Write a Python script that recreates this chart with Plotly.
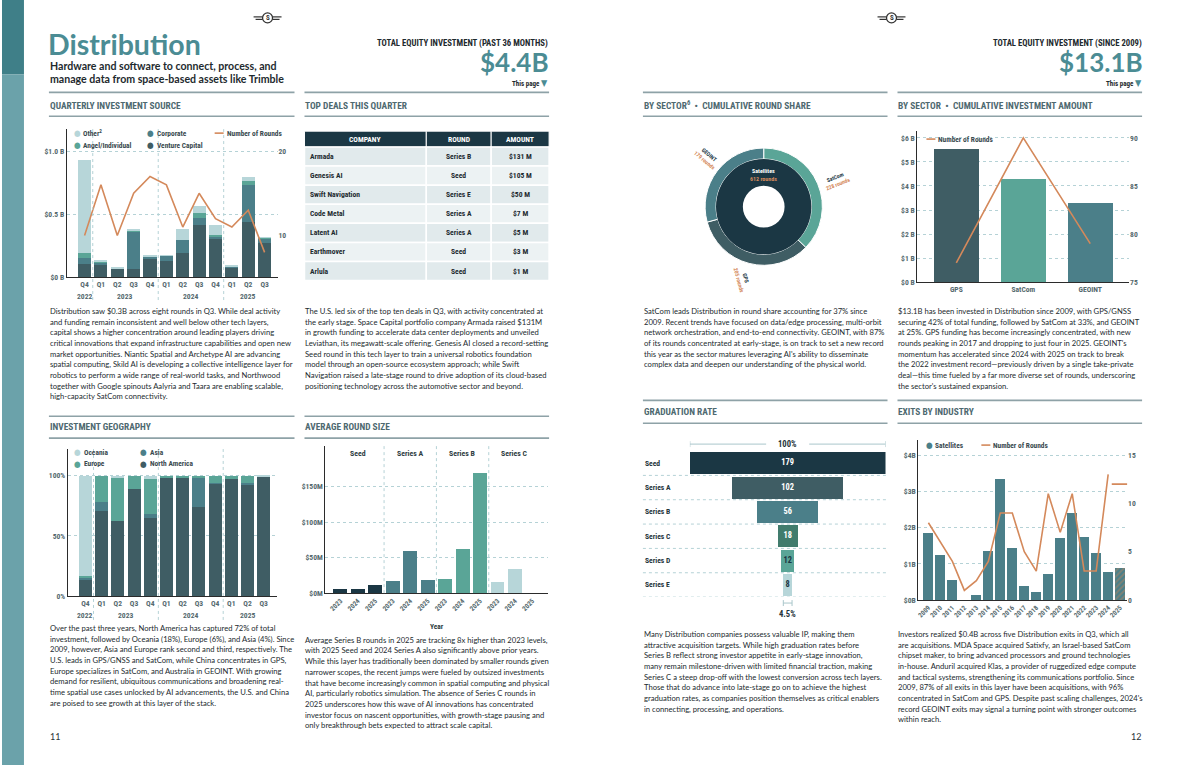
import plotly.graph_objects as go

W, H = 1190, 770

# ---------------- data ----------------
quarters = ["Q4", "Q1", "Q2", "Q3", "Q4", "Q1", "Q2", "Q3", "Q4", "Q1", "Q2", "Q3"]
quarter_years = ["2022", "2023", "2023", "2023", "2023", "2024", "2024", "2024", "2024", "2025", "2025", "2025"]
vc = [0.105, 0.097, 0.068, 0.066, 0.147, 0.129, 0.192, 0.413, 0.302, 0.079, 0.439, 0.274]
corporate = [0.048, 0.021, 0.003, 0.297, 0.011, 0.039, 0.103, 0.055, 0.016, 0.005, 0.292, 0.034]
angel = [0.039, 0.006, 0.0, 0.008, 0.0, 0.002, 0.0, 0.040, 0.016, 0.0, 0.037, 0.005]
other = [0.742, 0.013, 0.003, 0.005, 0.018, 0.001, 0.086, 0.063, 0.079, 0.005, 0.034, 0.005]
rounds_q = [10, 16, 10, 15, 17, 16, 11, 15, 12, 11, 13, 8]

geo_na = [13.5, 70.4, 62.2, 89.0, 64.6, 98.6, 97.8, 73.8, 93.1, 97.0, 92.8, 99.4]
geo_asia = [1.7, 7.5, 0.0, 0.0, 3.3, 0.0, 0.0, 24.5, 0.5, 0.0, 0.8, 0.0]
geo_europe = [1.4, 22.1, 35.6, 11.0, 29.1, 1.4, 2.2, 1.7, 6.4, 3.0, 6.4, 0.0]
geo_oceania = [83.4, 0.0, 2.2, 0.0, 3.0, 0.0, 0.0, 0.0, 0.0, 0.0, 0.0, 0.6]

deal_columns = ["COMPANY", "ROUND", "AMOUNT"]
deal_company = ["Armada", "Genesis AI", "Swift Navigation", "Code Metal", "Latent AI", "Earthmover", "Arlula"]
deal_round = ["Series B", "Seed", "Series E", "Series A", "Series A", "Seed", "Seed"]
deal_amount = ["$131 M", "$105 M", "$50 M", "$7 M", "$5 M", "$3 M", "$1 M"]

round_stages = ["Seed", "Series A", "Series B", "Series C"]
round_years = ["2023", "2024", "2025"]
avg_round = {
    "Seed": [6.0, 6.0, 11.6],
    "Series A": [17.2, 59.0, 18.6],
    "Series B": [20.0, 61.9, 169.0],
    "Series C": [15.8, 34.0, 0.0],
}

ring_sectors = ["SatCom", "GPS", "GEOINT"]
ring_rounds = [228, 205, 179]

sectors = ["GPS", "SatCom", "GEOINT"]
sector_amount = [5.52, 4.28, 3.28]
sector_rounds = [77, 90, 79]

grad_stages = ["Seed", "Series A", "Series B", "Series C", "Series D", "Series E"]
grad_counts = [179, 102, 56, 18, 12, 8]

exit_years = [str(y) for y in range(2009, 2026)]
exit_value = [1.85, 1.24, 0.55, 0.0, 0.14, 1.35, 3.34, 1.43, 0.39, 0.22, 0.72, 1.71, 2.42, 1.73, 1.29, 0.77, 0.90]
exit_rounds = [8, 6, 4, 1, 2, 4, 9, 9, 5, 3, 11, 7, 11, 3, 3, 13, 12]

# ---------------- style ----------------
DARK = "#1b3744"
SLATE = "#3f5d64"
TEAL = "#4b7f89"
GREEN = "#5aa597"
DGREEN = "#417c6d"
LIGHT = "#b7d6d9"
ORANGE = "#d4895b"
GRID = "#b5d2d6"
AXIS = "#2b2b2b"
TICK = "#55696e"
HEADC = "#4e6970"
TITLE = "#4b8c94"
BODYC = "#222a2e"
RULE = "#8ea2a7"

BODY = "Lato, 'Open Sans', 'Liberation Sans', sans-serif"
COND = "'Liberation Sans Narrow', 'Roboto Condensed', 'DejaVu Sans Condensed', Roboto, sans-serif"


def X(p):
    return p / W


def Y(p):
    return 1 - p / H


def xd(a, b):
    return [a / W, b / W]


def yd(top, bottom):
    return [1 - bottom / H, 1 - top / H]


ann = []
shapes = []


def text(x, y, s, size=7.65, color=BODYC, family=BODY, anchor="left", angle=0, yanchor="middle"):
    ann.append(dict(x=X(x), y=Y(y), xref="paper", yref="paper", text=s, showarrow=False,
                    xanchor=anchor, yanchor=yanchor, textangle=angle, borderpad=0,
                    font=dict(family=family, size=size, color=color)))


def line(x0, y0, x1, y1, color, width=1, dash="solid"):
    shapes.append(dict(type="line", xref="paper", yref="paper", x0=X(x0), x1=X(x1), y0=Y(y0), y1=Y(y1),
                       line=dict(color=color, width=width, dash=dash)))


def rect(x0, y0, x1, y1, fill, lc="white", lw=0):
    shapes.append(dict(type="rect", xref="paper", yref="paper", x0=X(x0), x1=X(x1), y0=Y(y1), y1=Y(y0),
                       fillcolor=fill, line=dict(color=lc, width=lw), layer="below"))


def para(x, y0, lines, dy=10.75):
    for i, s in enumerate(lines):
        text(x, y0 + i * dy, s)


def heading(x, y, s):
    text(x, y, "<b>" + s + "</b>", size=9.4, color=HEADC, family=COND)


def dot_leg(x, y, color, label):
    text(x, y, f"<span style='color:{color}'>●</span>", size=8.5, family=COND, anchor="center")
    text(x + 5, y, "<b>" + label + "</b>", size=7.4, color="#3a4a4f", family=COND)


def line_leg(x, y, label):
    line(x, y, x + 9, y, ORANGE, 1.6)
    text(x + 11, y, "<b>" + label + "</b>", size=7.4, color="#3a4a4f", family=COND)


def axis_ann(x, xref, y, s, size=7.6, color=TICK):
    ann.append(dict(x=x, y=Y(y), xref=xref, yref="paper", text=s, showarrow=False,
                    xanchor="center", yanchor="middle", font=dict(family=COND, size=size, color=color)))


fig = go.Figure()

# ---------------- page decoration ----------------
rect(0, 0, 22, 75, "#3f7f88")
rect(0, 75, 22, 770, "#6ba2aa")
for cx in (266, 891):
    shapes.append(dict(type="circle", xref="paper", yref="paper", x0=X(cx - 5), x1=X(cx + 5),
                       y0=Y(23), y1=Y(13), line=dict(color="#333", width=1.3)))
    line(cx - 14, 17, cx - 5, 17, "#333", 1.2)
    line(cx - 12, 19.5, cx - 5, 19.5, "#333", 1.2)
    line(cx + 5, 17, cx + 14, 17, "#333", 1.2)
    line(cx + 5, 19.5, cx + 12, 19.5, "#333", 1.2)
    text(cx, 18, "<b>S</b>", size=7, color="#333", family=COND, anchor="center")

text(45, 44, "<b>Distribution</b>", size=28.5, color=TITLE, family="Lato, 'Open Sans', sans-serif")
text(47, 66.5, "<b>Hardware and software to connect, process, and</b>", size=10.6, color="#1e2a2e", family=BODY)
text(47, 79.5, "<b>manage data from space-based assets like Trimble</b>", size=10.6, color="#1e2a2e", family=BODY)

text(548, 44, "<b>TOTAL EQUITY INVESTMENT (PAST 36 MONTHS)</b>", size=8.7, color="#1e2a2e", family=COND, anchor="right")
text(549, 62, "<b>$4.4B</b>", size=26, color=TITLE, family="Lato, 'Open Sans', sans-serif", anchor="right")
text(548, 84, f"<b>This page</b> <span style='color:{TITLE};font-size:9px'>▼</span>", size=7, color="#1e2a2e", family=COND, anchor="right")

text(1143, 44, "<b>TOTAL EQUITY INVESTMENT (SINCE 2009)</b>", size=8.7, color="#1e2a2e", family=COND, anchor="right")
text(1144, 62, "<b>$13.1B</b>", size=26, color=TITLE, family="Lato, 'Open Sans', sans-serif", anchor="right")
text(1143, 84, f"<b>This page</b> <span style='color:{TITLE};font-size:9px'>▼</span>", size=7, color="#1e2a2e", family=COND, anchor="right")

# rules and headings
for (x0, x1) in [(47, 293), (303, 548)]:
    line(x0, 93, x1, 93, RULE, 1.6)
    line(x0, 117, x1, 117, RULE, 1.6)
    line(x0, 419, x1, 419, RULE, 1.6)
    line(x0, 441, x1, 441, RULE, 1.6)
for (x0, x1) in [(642, 887), (897, 1142)]:
    line(x0, 93, x1, 93, RULE, 1.6)
    line(x0, 117, x1, 117, RULE, 1.6)
    line(x0, 403, x1, 403, RULE, 1.6)
    line(x0, 426, x1, 426, RULE, 1.6)

heading(47, 106, "QUARTERLY INVESTMENT SOURCE")
heading(303, 106, "TOP DEALS THIS QUARTER")
heading(642, 106, "BY SECTOR<sup>6</sup>  •  CUMULATIVE ROUND SHARE")
heading(897, 106, "BY SECTOR  •  CUMULATIVE INVESTMENT AMOUNT")
heading(47, 429, "INVESTMENT GEOGRAPHY")
heading(303, 429, "AVERAGE ROUND SIZE")
heading(642, 414, "GRADUATION RATE")
heading(897, 414, "EXITS BY INDUSTRY")

# ---------------- paragraphs ----------------
para(47, 313, [
    "Distribution saw $0.3B across eight rounds in Q3. While deal activity",
    "and funding remain inconsistent and well below other tech layers,",
    "capital shows a higher concentration around leading players driving",
    "critical innovations that expand infrastructure capabilities and open new",
    "market opportunities. Niantic Spatial and Archetype AI are advancing",
    "spatial computing, Skild AI is developing a collective intelligence layer for",
    "robotics to perform a wide range of real-world tasks, and Northwood",
    "together with Google spinouts Aalyria and Taara are enabling scalable,",
    "high-capacity SatCom connectivity.",
])
para(303, 313, [
    "The U.S. led six of the top ten deals in Q3, with activity concentrated at",
    "the early stage. Space Capital portfolio company Armada raised $131M",
    "in growth funding to accelerate data center deployments and unveiled",
    "Leviathan, its megawatt-scale offering. Genesis AI closed a record-setting",
    "Seed round in this tech layer to train a universal robotics foundation",
    "model through an open-source ecosystem approach; while Swift",
    "Navigation raised a late-stage round to drive adoption of its cloud-based",
    "positioning technology across the automotive sector and beyond.",
])
para(642, 313, [
    "SatCom leads Distribution in round share accounting for 37% since",
    "2009. Recent trends have focused on data/edge processing, multi-orbit",
    "network orchestration, and end-to-end connectivity. GEOINT, with 87%",
    "of its rounds concentrated at early-stage, is on track to set a new record",
    "this year as the sector matures leveraging AI's ability to disseminate",
    "complex data and deepen our understanding of the physical world.",
])
para(897, 313, [
    "$13.1B has been invested in Distribution since 2009, with GPS/GNSS",
    "securing 42% of total funding, followed by SatCom at 33%, and GEOINT",
    "at 25%. GPS funding has become increasingly concentrated, with new",
    "rounds peaking in 2017 and dropping to just four in 2025. GEOINT's",
    "momentum has accelerated since 2024 with 2025 on track to break",
    "the 2022 investment record\u2014previously driven by a single take-private",
    "deal\u2014this time fueled by a far more diverse set of rounds, underscoring",
    "the sector's sustained expansion.",
])
para(47, 632, [
    "Over the past three years, North America has captured 72% of total",
    "investment, followed by Oceania (18%), Europe (6%), and Asia (4%). Since",
    "2009, however, Asia and Europe rank second and third, respectively. The",
    "U.S. leads in GPS/GNSS and SatCom, while China concentrates in GPS,",
    "Europe specializes in SatCom, and Australia in GEOINT. With growing",
    "demand for resilient, ubiquitous communications and broadening real-",
    "time spatial use cases unlocked by AI advancements, the U.S. and China",
    "are poised to see growth at this layer of the stack.",
])
para(303, 644, [
    "Average Series B rounds in 2025 are tracking 8x higher than 2023 levels,",
    "with 2025 Seed and 2024 Series A also significantly above prior years.",
    "While this layer has traditionally been dominated by smaller rounds given",
    "narrower scopes, the recent jumps were fueled by outsized investments",
    "that have become increasingly common in spatial computing and physical",
    "AI, particularly robotics simulation. The absence of Series C rounds in",
    "2025 underscores how this wave of AI innovations has concentrated",
    "investor focus on nascent opportunities, with growth-stage pausing and",
    "only breakthrough bets expected to attract scale capital.",
])
para(642, 638, [
    "Many Distribution companies possess valuable IP, making them",
    "attractive acquisition targets. While high graduation rates before",
    "Series B reflect strong investor appetite in early-stage innovation,",
    "many remain milestone-driven with limited financial traction, making",
    "Series C a steep drop-off with the lowest conversion across tech layers.",
    "Those that do advance into late-stage go on to achieve the highest",
    "graduation rates, as companies position themselves as critical enablers",
    "in connecting, processing, and operations.",
])
para(897, 638, [
    "Investors realized $0.4B across five Distribution exits in Q3, which all",
    "are acquisitions. MDA Space acquired Satixfy, an Israel-based SatCom",
    "chipset maker, to bring advanced processors and ground technologies",
    "in-house. Anduril acquired Klas, a provider of ruggedized edge compute",
    "and tactical systems, strengthening its communications portfolio. Since",
    "2009, 87% of all exits in this layer have been acquisitions, with 96%",
    "concentrated in SatCom and GPS. Despite past scaling challenges, 2024's",
    "record GEOINT exits may signal a turning point with stronger outcomes",
    "within reach.",
])
text(47, 741, "11", size=9, color="#2b3539", family=BODY)
text(1142, 741, "12", size=9, color="#2b3539", family=BODY, anchor="right")

TF = dict(family=COND, size=7.6, color=TICK, weight="bold")


def base_x(dom, anchor, rng, **kw):
    d = dict(domain=dom, anchor=anchor, range=rng, showgrid=False, zeroline=False, showline=True,
             linecolor=AXIS, linewidth=1.3, ticks="", tickfont=TF, fixedrange=True)
    d.update(kw)
    return d


def base_y(dom, anchor, rng, tickvals, ticktext, grid=True, line_on=True, **kw):
    d = dict(domain=dom, anchor=anchor, range=rng, tickvals=tickvals, ticktext=ticktext,
             showgrid=grid, gridcolor=GRID, griddash="dot", gridwidth=1, zeroline=False,
             showline=line_on, linecolor=AXIS, linewidth=1.3, ticks="", tickfont=TF, fixedrange=True)
    d.update(kw)
    return d


# ---------------- chart A: quarterly investment source ----------------
qkeys = [f"{q} {y}" for q, y in zip(quarters, quarter_years)]
for vals, col in [(vc, SLATE), (corporate, TEAL), (angel, GREEN), (other, LIGHT)]:
    fig.add_trace(go.Bar(x=qkeys, y=vals, marker=dict(color=col, line=dict(width=0)), width=0.8,
                         xaxis="x", yaxis="y", hoverinfo="skip"))
fig.add_trace(go.Scatter(x=qkeys, y=rounds_q, mode="lines", line=dict(color=ORANGE, width=1.6),
                         xaxis="x", yaxis="y2", hoverinfo="skip"))


def year_marks(xref, years, y_label, y_top, y_bot):
    uniq = []
    for yv in years:
        if yv not in uniq:
            uniq.append(yv)
    for yv in uniq:
        idx = [i for i, v in enumerate(years) if v == yv]
        axis_ann(sum(idx) / len(idx), xref, y_label, "<b>" + yv + "</b>")
        if idx[0] > 0:
            shapes.append(dict(type="line", xref=xref, yref="paper", x0=idx[0] - 0.5, x1=idx[0] - 0.5,
                               y0=Y(y_bot), y1=Y(y_top), line=dict(color=GRID, width=1, dash="dot")))


year_marks("x", quarter_years, 298, 130, 302)
dot_leg(75.5, 134, LIGHT, "Other<sup>2</sup>")
dot_leg(75.5, 146, GREEN, "Angel/Individual")
dot_leg(149, 134, TEAL, "Corporate")
dot_leg(149, 146, SLATE, "Venture Capital")
line_leg(213, 134, "Number of Rounds")

# ---------------- chart B: investment geography ----------------
for vals, col in [(geo_na, SLATE), (geo_asia, TEAL), (geo_europe, GREEN), (geo_oceania, LIGHT)]:
    fig.add_trace(go.Bar(x=qkeys, y=vals, marker=dict(color=col, line=dict(width=0)), width=0.8,
                         xaxis="x3", yaxis="y3", hoverinfo="skip"))
year_marks("x3", quarter_years, 620, 452, 624)
dot_leg(76, 455, LIGHT, "Oceania")
dot_leg(76, 467, GREEN, "Europe")
dot_leg(142, 455, TEAL, "Asia")
dot_leg(142, 467, SLATE, "North America")

# ---------------- chart C: average round size ----------------
stage_colors = {"Seed": DARK, "Series A": TEAL, "Series B": GREEN, "Series C": LIGHT}
rkeys = []
for s in round_stages:
    keys = [f"{s} {y}" for y in round_years]
    rkeys += keys
    fig.add_trace(go.Bar(x=keys, y=avg_round[s], marker=dict(color=stage_colors[s], line=dict(width=0)),
                         width=0.8, xaxis="x4", yaxis="y4", hoverinfo="skip"))
n_y = len(round_years)
for k, s in enumerate(round_stages):
    axis_ann(k * n_y + (n_y - 1) / 2, "x4", 456, "<b>" + s + "</b>", size=7.8, color="#2e3d42")
    if k > 0:
        shapes.append(dict(type="line", xref="x4", yref="paper", x0=k * n_y - 0.5, x1=k * n_y - 0.5,
                           y0=Y(597), y1=Y(449), line=dict(color=GRID, width=1, dash="dot")))
text(436, 631, "<b>Year</b>", size=7.4, color="#2e3d42", family=COND, anchor="center")

# ---------------- donut ----------------
fig.add_trace(go.Pie(values=ring_rounds, labels=ring_sectors, hole=48 / 59, sort=False, direction="clockwise",
                     rotation=0, marker=dict(colors=[GREEN, SLATE, TEAL], line=dict(color="white", width=1)),
                     textinfo="none", hoverinfo="skip", showlegend=False,
                     domain=dict(x=xd(704, 822), y=yd(149, 267))))
fig.add_trace(go.Pie(values=[sum(ring_rounds)], labels=["Satellites"], hole=21 / 48, sort=False,
                     marker=dict(colors=[DARK], line=dict(width=0)), textinfo="none", hoverinfo="skip",
                     showlegend=False, domain=dict(x=xd(715, 811), y=yd(160, 256))))
text(763, 172, "<b>Satellites</b>", size=6, color="white", family=COND, anchor="center")
text(763, 180, f"<b>{sum(ring_rounds)} rounds</b>", size=6, color=ORANGE, family=COND, anchor="center")
lab_pos = {"SatCom": (836, 182, -22), "GPS": (742, 281, 74), "GEOINT": (706, 159, 40)}
for s, r in zip(ring_sectors, ring_rounds):
    xx, yy, ang = lab_pos[s]
    ann.append(dict(x=X(xx), y=Y(yy), xref="paper", yref="paper", showarrow=False, textangle=ang,
                    xanchor="center", yanchor="middle",
                    text=f"<b>{s}</b><br><span style='color:{ORANGE}'><b>{r} rounds</b></span>",
                    font=dict(family=COND, size=5.6, color=DARK)))

# ---------------- chart D: sector investment ----------------
fig.add_trace(go.Bar(x=sectors, y=sector_amount, marker=dict(color=[SLATE, GREEN, TEAL], line=dict(width=0)),
                     width=0.67, xaxis="x5", yaxis="y5", hoverinfo="skip"))
fig.add_trace(go.Scatter(x=sectors, y=sector_rounds, mode="lines", line=dict(color=ORANGE, width=1.6),
                         xaxis="x5", yaxis="y6", hoverinfo="skip"))
line_leg(926, 140, "Number of Rounds")

# ---------------- chart E: graduation rate ----------------
gmax = max(grad_counts)
grad_colors = [DARK, SLATE, TEAL, DGREEN, GREEN, LIGHT]
fig.add_trace(go.Bar(y=grad_stages, x=grad_counts, base=[-c / 2 for c in grad_counts], orientation="h",
                     marker=dict(color=grad_colors, line=dict(width=0)), width=0.9, xaxis="x7", yaxis="y7",
                     hoverinfo="skip"))
fig.add_trace(go.Scatter(y=grad_stages, x=[0] * len(grad_counts), mode="text",
                         text=["<b>" + str(c) + "</b>" for c in grad_counts],
                         textfont=dict(family=COND, size=8.4,
                                       color=["white", "white", "white", "white", DARK, DARK]),
                         xaxis="x7", yaxis="y7", hoverinfo="skip"))
for i, s in enumerate(grad_stages):
    ann.append(dict(x=X(642), y=s, xref="paper", yref="y7", text="<b>" + s + "</b>", showarrow=False,
                    xanchor="left", yanchor="middle", font=dict(family=COND, size=7.6, color="#24343a")))
    shapes.append(dict(type="line", xref="paper", yref="y7", x0=X(642), x1=X(887), y0=i + 0.5, y1=i + 0.5,
                       line=dict(color=GRID, width=1, dash="dot")))
BR = "#a9c6cb"
for (x0, x1) in [(-gmax / 2, -gmax * 0.11), (gmax * 0.11, gmax / 2)]:
    shapes.append(dict(type="line", xref="x7", yref="paper", x0=x0, x1=x1, y0=Y(447), y1=Y(447),
                       line=dict(color=BR, width=1)))
for xv in (-gmax / 2, gmax / 2):
    shapes.append(dict(type="line", xref="x7", yref="paper", x0=xv, x1=xv, y0=Y(444), y1=Y(450),
                       line=dict(color=BR, width=1)))
axis_ann(0, "x7", 447, "<b>100%</b>", size=8.6, color="#24343a")
last = grad_counts[-1]
shapes.append(dict(type="line", xref="x7", yref="paper", x0=-last / 2, x1=last / 2, y0=Y(607), y1=Y(607),
                   line=dict(color=BR, width=1)))
for xv in (-last / 2, last / 2):
    shapes.append(dict(type="line", xref="x7", yref="paper", x0=xv, x1=xv, y0=Y(604), y1=Y(610),
                       line=dict(color=BR, width=1)))
axis_ann(0, "x7", 618, f"<b>{100 * last / gmax:.1f}%</b>", size=8.6, color="#24343a")

# ---------------- chart F: exits ----------------
fig.add_trace(go.Bar(x=exit_years, y=exit_value, width=0.83, xaxis="x8", yaxis="y8", hoverinfo="skip",
                     marker=dict(color=TEAL, line=dict(width=0),
                                 pattern=dict(shape=[""] * (len(exit_years) - 1) + ["/"], fillmode="overlay",
                                              fgcolor="#b98662", size=4, solidity=0.45))))
fig.add_trace(go.Scatter(x=exit_years[:-1], y=exit_rounds[:-1], mode="lines",
                         line=dict(color=ORANGE, width=1.6), xaxis="x8", yaxis="y9", hoverinfo="skip"))
fig.add_trace(go.Scatter(x=exit_years[-1:], y=exit_rounds[-1:], mode="markers",
                         marker=dict(symbol="line-ew", size=12, line=dict(color=ORANGE, width=1.8)),
                         xaxis="x8", yaxis="y9", hoverinfo="skip"))
dot_leg(929, 448, TEAL, "Satellites")
line_leg(981, 448, "Number of Rounds")

# ---------------- table (top deals) ----------------
col_edges = [303, 425, 490, 548]
head_top, head_bot, row_h = 132, 148, 19.2
row_fill = ["#e1eaec" if i % 2 == 0 else "#ecf2f3" for i in range(len(deal_company))]
table_cols = [deal_company, deal_round, deal_amount]
for j, name in enumerate(deal_columns):
    rect(col_edges[j], head_top, col_edges[j + 1], head_bot, DARK, "white", 1)
    text((col_edges[j] + col_edges[j + 1]) / 2, (head_top + head_bot) / 2, "<b>" + name + "</b>",
         size=7.6, color="white", family=COND, anchor="center")
for i in range(len(deal_company)):
    y0 = head_bot + i * row_h
    for j in range(3):
        rect(col_edges[j], y0, col_edges[j + 1], y0 + row_h, row_fill[i], "white", 1.5)
        if j == 0:
            text(col_edges[0] + 5, y0 + row_h / 2, "<b>" + table_cols[j][i] + "</b>", size=7.6,
                 color="#1e2b30", family=COND, anchor="left")
        else:
            text((col_edges[j] + col_edges[j + 1]) / 2, y0 + row_h / 2, "<b>" + table_cols[j][i] + "</b>",
                 size=7.6, color="#1e2b30", family=COND, anchor="center")

# ---------------- layout ----------------
fig.update_layout(
    width=W, height=H, margin=dict(l=0, r=0, t=0, b=0), paper_bgcolor="white", plot_bgcolor="rgba(0,0,0,0)",
    barmode="stack", showlegend=False, annotations=ann, shapes=shapes,
    xaxis=base_x(xd(65, 276), "y", [-1.08, 11.79], type="category", categoryarray=qkeys,
                 tickvals=qkeys, ticktext=quarters),
    yaxis=base_y(yd(130, 279), "x", [0, 1.18], [0, 0.5, 1.0], ["$0 B", "$0.5 B", "$1.0 B"]),
    yaxis2=base_y(yd(130, 279), "x", [5.06, 22.6], [10, 20], ["10", "20"], grid=False, line_on=False,
                  overlaying="y", side="right"),
    xaxis3=base_x(xd(66, 275), "y3", [-1.08, 11.79], type="category", categoryarray=qkeys,
                  tickvals=qkeys, ticktext=quarters),
    yaxis3=base_y(yd(452, 600), "x3", [0, 122], [0, 50, 100], ["0%", "50%", "100%"]),
    xaxis4=base_x(xd(324, 547), "y4", [-0.86, 11.9], type="category", categoryarray=rkeys,
                  tickvals=rkeys, ticktext=round_years * len(round_stages), tickangle=-45,
                  tickfont=dict(family=COND, size=6.9, color=TICK, weight="bold")),
    yaxis4=base_y(yd(449, 597), "x4", [0, 207], [0, 50, 100, 150], ["$0M", "$50M", "$100M", "$150M"]),
    xaxis5=base_x(xd(917, 1129), "y5", [-0.58, 2.58], type="category", categoryarray=sectors),
    yaxis5=base_y(yd(132, 284), "x5", [0, 6.28], [0, 1, 2, 3, 4, 5, 6], [f"${v} B" for v in range(7)]),
    yaxis6=base_y(yd(132, 284), "x5", [75, 90.7], [75, 80, 85, 90], ["75", "80", "85", "90"], grid=False,
                  line_on=False, overlaying="y5", side="right"),
    xaxis7=dict(domain=xd(689, 885), anchor="y7", range=[-gmax / 2, gmax / 2], visible=False, fixedrange=True),
    yaxis7=dict(domain=yd(454, 601), anchor="x7", type="category", categoryarray=grad_stages,
                range=[len(grad_stages) - 0.5, -0.5], visible=False, fixedrange=True),
    xaxis8=base_x(xd(918, 1127), "y8", [-0.83, 16.58], type="category", categoryarray=exit_years,
                  tickangle=-45, tickfont=dict(family=COND, size=6.8, color=TICK, weight="bold")),
    yaxis8=base_y(yd(443, 604), "x8", [0, 4.42], [0, 1, 2, 3, 4], [f"${v}B" for v in range(5)]),
    yaxis9=base_y(yd(443, 604), "x8", [0, 16.54], [0, 5, 10, 15], ["0", "5", "10", "15"], grid=False,
                  line_on=False, overlaying="y8", side="right"),
)

fig.write_html("out.html", config={"displayModeBar": False},
               post_script="document.body.style.margin='0';document.body.style.overflow='hidden';")
